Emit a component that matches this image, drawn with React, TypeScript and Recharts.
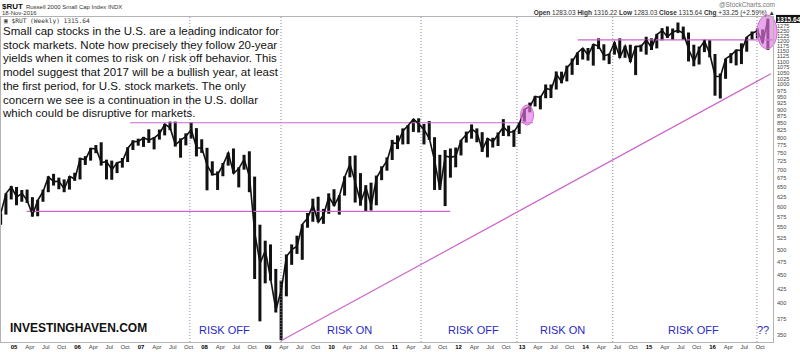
import React from 'react';
import { ComposedChart, Bar, Line, XAxis, YAxis, ReferenceLine, ReferenceDot } from 'recharts';

// monthly bars, Oct 2004 .. Nov 2016
const startYear = 2004;
const startMonth = 9;

const highs = [
  583, 634, 654,
  651, 643, 644, 624, 617, 644, 681, 688, 677, 672, 681, 691,
  736, 741, 767, 776, 785, 730, 727, 722, 735, 769, 792, 797,
  803, 829, 802, 828, 848, 856, 856, 798, 815, 853, 833, 795,
  767, 725, 695, 720, 752, 765, 707, 745, 756, 680, 556, 520,
  512, 462, 440, 491, 512, 531, 557, 584, 620, 625, 594, 634,
  645, 629, 681, 741, 743, 690, 656, 663, 683, 710, 737, 793,
  808, 832, 844, 866, 868, 848, 858, 802, 745, 760, 765, 768,
  793, 821, 846, 832, 819, 799, 800, 818, 865, 842, 827, 854,
  902, 927, 953, 954, 1000, 1000, 1056, 1055, 1082, 1115, 1143, 1164,
  1165, 1184, 1213, 1183, 1138, 1193, 1213, 1176, 1181, 1174, 1181, 1221,
  1213, 1236, 1266, 1275, 1264, 1296, 1274, 1243, 1181, 1172, 1206, 1204,
  1136, 1047, 1114, 1140, 1157, 1188, 1220, 1248, 1264, 1259, 1317,
];

const lows = [
  556, 580, 618,
  603, 612, 609, 575, 576, 612, 637, 655, 645, 637, 644, 668,
  672, 714, 727, 750, 712, 672, 671, 690, 706, 723, 760, 774,
  770, 783, 762, 794, 808, 826, 771, 736, 775, 797, 740, 751,
  642, 683, 643, 681, 712, 689, 650, 700, 637, 443, 371, 435,
  440, 385, 343, 412, 470, 492, 480, 549, 563, 562, 558, 582,
  601, 580, 628, 678, 610, 602, 588, 590, 603, 670, 697, 729,
  763, 778, 779, 820, 818, 778, 793, 643, 643, 601, 677, 707,
  743, 784, 797, 785, 754, 737, 768, 773, 806, 805, 770, 813,
  856, 890, 912, 901, 944, 945, 979, 1005, 1013, 1041, 1085, 1110,
  1105, 1082, 1160, 1106, 1089, 1133, 1117, 1118, 1098, 1040, 1147, 1133,
  1155, 1163, 1203, 1215, 1205, 1240, 1205, 1101, 1079, 1087, 1145, 1120,
  954, 943, 1024, 1093, 1083, 1089, 1147, 1206, 1213, 1190, 1156,
];

const closes = [
  583, 634, 651,
  624, 634, 615, 579, 616, 639, 679, 666, 667, 646, 681, 673,
  733, 730, 765, 764, 721, 724, 700, 721, 725, 766, 787, 788,
  800, 792, 800, 814, 847, 834, 777, 792, 805, 828, 767, 766,
  713, 686, 687, 714, 751, 689, 704, 731, 680, 537, 473, 499,
  443, 389, 423, 487, 501, 508, 557, 572, 604, 562, 579, 625,
  602, 628, 679, 717, 663, 610, 650, 602, 676, 703, 727, 783,
  781, 823, 843, 865, 848, 827, 797, 726, 644, 741, 737, 741,
  792, 811, 830, 816, 761, 798, 786, 812, 837, 818, 821, 849,
  902, 911, 951, 947, 984, 977, 1045, 1010, 1073, 1100, 1142, 1164,
  1131, 1183, 1173, 1127, 1135, 1193, 1120, 1175, 1101, 1173, 1173, 1205,
  1165, 1233, 1253, 1220, 1246, 1254, 1239, 1159, 1101, 1162, 1199, 1136,
  1035, 1034, 1114, 1130, 1155, 1152, 1220, 1239, 1252, 1192, 1316,
];

const lastClose = 1315.64;
const tickYears = [2005, 2006, 2007, 2008, 2009, 2010, 2011, 2012, 2013, 2014, 2015, 2016];
const quarterLabels = ['Apr', 'Jul', 'Oct'];
const priceTicks = [350, 375, 400, 425, 450, 475, 500, 525, 550, 575, 600, 625, 650, 675, 700, 725, 750, 775, 800,
  825, 850, 875, 900, 925, 950, 975, 1000, 1025, 1050, 1075, 1100, 1125, 1150, 1175, 1200, 1225, 1250, 1275];

// risk on / risk off dividers
const dividers = [2007.77, 2009.205, 2011.41, 2012.92, 2014.43, 2016.7];

const data = closes.map((c, i) => ({
  t: startYear + (startMonth + i + 0.5) / 12,
  range: [lows[i], highs[i]],
  close: c,
}));

const xTicks = tickYears.flatMap((y) => [y, y + 0.25, y + 0.5, y + 0.75]);

const FONT = '"Liberation Sans", Arial, sans-serif';
const MAGENTA = '#cc66cc';
const BLUE = '#2a2ac4';

const XTick = ({ x, y, payload }: any) => {
  const v = payload.value;
  const frac = v - Math.floor(v);
  const isYear = frac < 0.01;
  const label = isYear ? String(Math.round(v) % 100).padStart(2, '0') : quarterLabels[Math.round(frac * 4) - 1];
  return (
    <text x={x} y={y + 5} textAnchor="middle" dominantBaseline="central" fontSize={6}
      fontFamily={FONT} fontWeight={isYear ? 'bold' : 'normal'} fill={isYear ? '#000' : '#444'}>
      {label}
    </text>
  );
};

const YTick = ({ x, y, payload }: any) => (
  <text x={x + 4} y={y} dominantBaseline="central" fontSize={5.6} fontFamily={FONT} fill="#444">
    {payload.value}
  </text>
);

const PriceTag = ({ viewBox }: any) => {
  const x = viewBox.x + viewBox.width + 3;
  const y = viewBox.y;
  return (
    <g>
      <rect x={x} y={y - 4} width={25} height={8} fill="#111" />
      <text x={x + 12.5} y={y + 0.5} textAnchor="middle" dominantBaseline="central" fontSize={6.5}
        fontFamily={FONT} fontWeight="bold" fill="#fff">{lastClose.toFixed(2)}</text>
    </g>
  );
};

const paragraph = [
  'Small cap stocks in the U.S. are a leading indicator for',
  'stock markets. Note how precisely they follow 20-year',
  'yields when it comes to risk on / risk off behavior. This',
  'model suggest that 2017 will be a bullish year, at least',
  'the first period, for U.S. stock markets. The only',
  'concern we see is a continuation in the U.S. dollar',
  'which could be disruptive for markets.',
];

const riskLabels = [
  { text: 'RISK OFF', left: 199 },
  { text: 'RISK ON', left: 327 },
  { text: 'RISK OFF', left: 448 },
  { text: 'RISK ON', left: 540 },
  { text: 'RISK OFF', left: 668 },
  { text: '??', left: 757 },
];

export default function App() {
  return (
    <div style={{ position: 'absolute', left: 0, top: 0, width: 800, height: 352, background: '#fff', fontFamily: FONT }}>
      <ComposedChart width={800} height={352} data={data} margin={{ top: 16, right: 0, bottom: 0, left: 1 }}>
        <XAxis dataKey="t" type="number" domain={[2004.795, 2016.953]} allowDataOverflow ticks={xTicks}
          tick={<XTick />} tickLine={false} axisLine={false} tickSize={0} tickMargin={0} height={10} interval={0} />
        <YAxis orientation="right" scale="log" domain={[340.3, 1331.8]} allowDataOverflow ticks={priceTicks}
          tick={<YTick />} tickLine={false} axisLine={false} tickSize={0} tickMargin={0} width={27} interval={0} />
        {dividers.map((d) => (
          <ReferenceLine key={d} x={d} stroke="#8a8ab4" strokeDasharray="1 2" />
        ))}
        <ReferenceLine segment={[{ x: 2005.2, y: 588 }, { x: 2011.87, y: 588 }]} stroke={MAGENTA} strokeWidth={1.2} ifOverflow="visible" />
        <ReferenceLine segment={[{ x: 2006.83, y: 852 }, { x: 2013.17, y: 852 }]} stroke={MAGENTA} strokeWidth={1.2} ifOverflow="visible" />
        <ReferenceLine segment={[{ x: 2013.88, y: 1205 }, { x: 2016.95, y: 1205 }]} stroke={MAGENTA} strokeWidth={1.2} ifOverflow="visible" />
        <ReferenceLine segment={[{ x: 2009.205, y: 342 }, { x: 2016.92, y: 1046 }]} stroke={MAGENTA} strokeWidth={1.2} ifOverflow="visible" />
        <ReferenceDot x={2013.08} y={880} r={8} ifOverflow="visible"
          shape={(p: any) => <ellipse cx={p.cx} cy={p.cy} rx={6.5} ry={10} fill="#e278e2" fillOpacity={0.65} stroke="#d070d0" />} />
        <ReferenceDot x={2016.86} y={1246} r={8} ifOverflow="visible"
          shape={(p: any) => <ellipse cx={p.cx} cy={p.cy} rx={10} ry={17} fill="#e278e2" fillOpacity={0.65} stroke="#d070d0" />} />
        <Bar dataKey="range" fill="#111" barSize={3} isAnimationActive={false} />
        <Line dataKey="close" stroke="#111" strokeWidth={1.6} dot={false} isAnimationActive={false} />
        <ReferenceLine y={lastClose} stroke="none" label={<PriceTag />} ifOverflow="visible" />
      </ComposedChart>

      {/* plot frame */}
      <div style={{ position: 'absolute', left: 0, top: 16, width: 774, height: 327, border: '1px solid #b4b4b4', boxSizing: 'border-box', pointerEvents: 'none' }} />

      {/* header */}
      <div style={{ position: 'absolute', left: 2, top: -1, whiteSpace: 'nowrap', lineHeight: '9px' }}>
        <span style={{ fontSize: 8, fontWeight: 'bold', color: '#111' }}>$RUT</span>
        <span style={{ fontSize: 6, color: '#333', marginLeft: 3 }}>Russell 2000 Small Cap Index INDX</span>
      </div>
      <div style={{ position: 'absolute', left: 2, top: 10, fontSize: 6, color: '#333', lineHeight: '6px' }}>18-Nov-2016</div>
      <div style={{ position: 'absolute', right: 25, top: 1, fontSize: 6.5, color: '#777', lineHeight: '7px' }}>@StockCharts.com</div>
      <div style={{ position: 'absolute', right: 25, top: 9, fontSize: 6.5, color: '#333', lineHeight: '7px', whiteSpace: 'nowrap' }}>
        <b>Open</b> 1283.03 <b>High</b> 1316.22 <b>Low</b> 1283.03 <b>Close</b> 1315.64 <b>Chg</b> +33.25 (+2.59%) ▲
      </div>
      <div style={{ position: 'absolute', left: 4, top: 17, fontSize: 6.2, color: '#333', lineHeight: '7px', fontFamily: '"DejaVu Sans Mono", monospace', whiteSpace: 'nowrap' }}>
        ▣ $RUT (Weekly) 1315.64
      </div>

      {/* commentary */}
      <div style={{ position: 'absolute', left: 3, top: 24.8, fontSize: 11.5, lineHeight: '13.75px', color: '#111', whiteSpace: 'pre' }}>
        {paragraph.join('\n')}
      </div>

      <div style={{ position: 'absolute', left: 10, top: 320, fontSize: 12, fontWeight: 'bold', color: '#111', lineHeight: '16px' }}>
        INVESTINGHAVEN.COM
      </div>
      {riskLabels.map((r, i) => (
        <div key={i} style={{ position: 'absolute', left: r.left, top: 323, fontSize: 11, color: BLUE, lineHeight: '14px', whiteSpace: 'nowrap' }}>
          {r.text}
        </div>
      ))}
    </div>
  );
}
